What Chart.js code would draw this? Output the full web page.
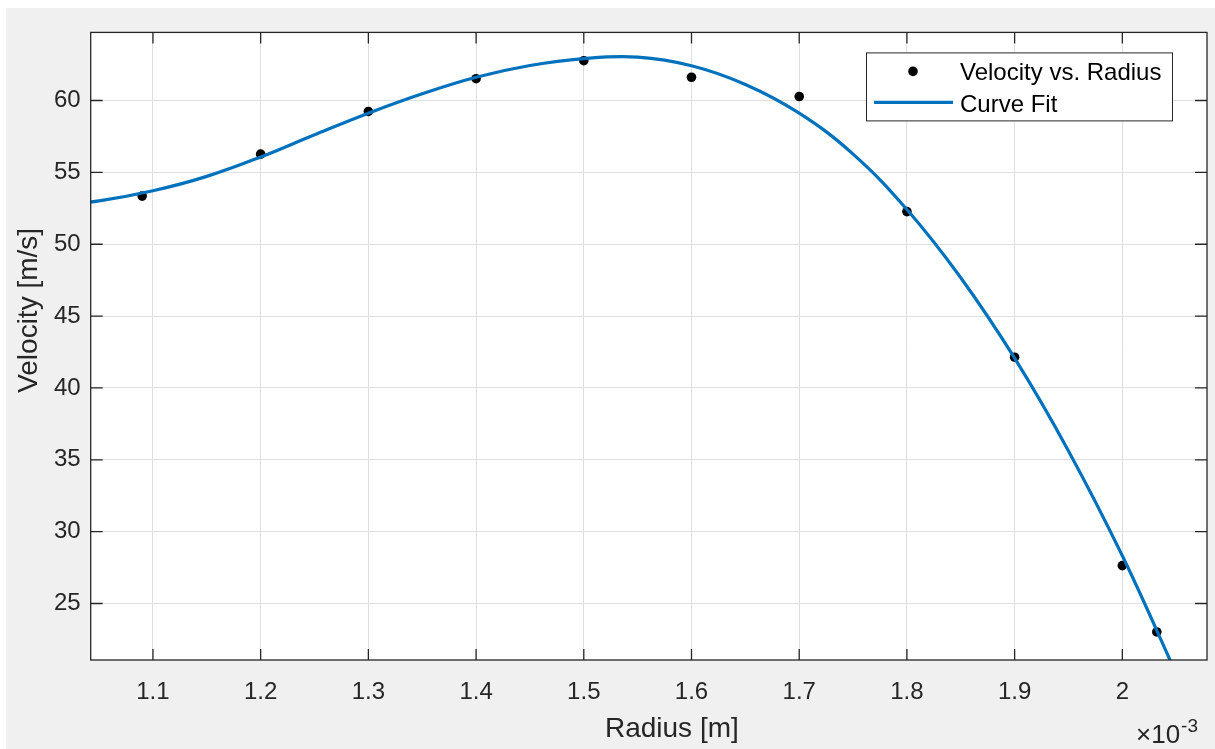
<!DOCTYPE html>
<html lang="en">
  <head>
    <meta charset="UTF-8" />
    <title>Velocity vs. Radius</title>
    <script src="https://cdn.jsdelivr.net/npm/chart.js"></script>
    <style>
      html, body { margin: 0; background: #fff; }
      #panel { position: absolute; left: 6px; top: 8px; width: 1209px; height: 741px; background: #f0f0f0; }
      #chart { display: block; }
    </style>
  </head>
  <body>
    <div id="panel"><canvas id="chart" width="1209" height="741"></canvas></div>

    <script>
      // measured points (radius in units of 1e-3 m)
      const radius   = [1.09, 1.2, 1.3, 1.4, 1.5, 1.6, 1.7, 1.8, 1.9, 2.0, 2.032];
      const velocity = [53.35, 56.27, 59.24, 61.52, 62.77, 61.62, 60.28, 52.27, 42.14, 27.64, 23.02];

      // curve fit
      const fitRadius   = [1.0, 1.05, 1.1, 1.15, 1.2, 1.25, 1.3, 1.35, 1.4, 1.45, 1.5, 1.55,
                           1.6, 1.65, 1.7, 1.75, 1.8, 1.85, 1.9, 1.95, 2.0, 2.05];
      const fitVelocity = [52.6, 53.02, 53.72, 54.72, 56.07, 57.62, 59.12, 60.47, 61.62, 62.44, 62.92, 63.02,
                           62.42, 61.12, 59.12, 56.27, 52.42, 47.67, 42.07, 35.62, 28.32, 20.12];

      // axes
      const xTicks      = [1.1, 1.2, 1.3, 1.4, 1.5, 1.6, 1.7, 1.8, 1.9, 2.0];
      const xTickLabels = ["1.1", "1.2", "1.3", "1.4", "1.5", "1.6", "1.7", "1.8", "1.9", "2"];
      const yTicks      = [25, 30, 35, 40, 45, 50, 55, 60];
      const xRange = [1.0422, 2.0786];
      const yRange = [21.07, 64.74];

      const TXT = "#262626";
      const FONT = '"Liberation Sans", Arial, sans-serif';
      Chart.defaults.font.family = FONT;
      Chart.defaults.color = TXT;

      /* white plot area */
      const plotBg = {
        id: "plotBg",
        beforeDraw(chart) {
          const { ctx, chartArea: a } = chart;
          ctx.save();
          ctx.fillStyle = "#fff";
          ctx.fillRect(a.left, a.top, a.right - a.left, a.bottom - a.top);
          ctx.restore();
        }
      };

      /* box, inner ticks, labels, legend */
      const matlabFrame = {
        id: "matlabFrame",
        afterDraw(chart) {
          const { ctx, chartArea: a, scales: { x, y } } = chart;
          ctx.save();

          // box + inward ticks
          ctx.strokeStyle = TXT;
          ctx.lineWidth = 1.3;
          ctx.strokeRect(a.left, a.top, a.right - a.left, a.bottom - a.top);
          ctx.beginPath();
          xTicks.forEach(v => {
            const px = x.getPixelForValue(v);
            ctx.moveTo(px, a.bottom); ctx.lineTo(px, a.bottom - 11);
            ctx.moveTo(px, a.top);    ctx.lineTo(px, a.top + 11);
          });
          yTicks.forEach(v => {
            const py = y.getPixelForValue(v);
            ctx.moveTo(a.left, py);  ctx.lineTo(a.left + 12, py);
            ctx.moveTo(a.right, py); ctx.lineTo(a.right - 12, py);
          });
          ctx.stroke();

          // axis titles
          ctx.fillStyle = TXT;
          ctx.font = `28px ${FONT}`;
          ctx.textAlign = "center";
          ctx.textBaseline = "alphabetic";
          ctx.fillText("Radius [m]", (a.left + a.right) / 2 + 23, a.bottom + 77);
          ctx.save();
          ctx.translate(31, a.top + 278);
          ctx.rotate(-Math.PI / 2);
          ctx.fillText("Velocity [m/s]", 0, 0);
          ctx.restore();

          // exponent
          ctx.textAlign = "left";
          ctx.font = `26px ${FONT}`;
          const ex = a.right - 71, ey = a.bottom + 83;
          ctx.fillText("\u00d710", ex, ey);
          const w = ctx.measureText("\u00d710").width;
          ctx.font = `19px ${FONT}`;
          ctx.fillText("-3", ex + w + 1, ey - 11);

          // legend
          const ds = chart.data.datasets;
          const lx = a.right - 341, ly = a.top + 20, lw = 306, lh = 68;
          ctx.fillStyle = "#fff";
          ctx.fillRect(lx, ly, lw, lh);
          ctx.strokeStyle = TXT;
          ctx.lineWidth = 1;
          ctx.strokeRect(lx + 0.5, ly + 0.5, lw, lh);

          ctx.fillStyle = "#000";
          ctx.beginPath();
          ctx.arc(lx + 47, ly + 19, 4.8, 0, Math.PI * 2);
          ctx.fill();

          ctx.strokeStyle = ds[1].borderColor;
          ctx.lineWidth = ds[1].borderWidth;
          ctx.beginPath();
          ctx.moveTo(lx + 8, ly + 50);
          ctx.lineTo(lx + 87, ly + 50);
          ctx.stroke();

          ctx.fillStyle = "#000";
          ctx.font = `24px ${FONT}`;
          ctx.fillText(ds[0].label, lx + 94, ly + 28);
          ctx.fillText(ds[1].label, lx + 94, ly + 60);

          ctx.restore();
        }
      };

      new Chart(document.getElementById("chart"), {
        type: "scatter",
        data: {
          datasets: [
            {
              label: "Velocity vs. Radius",
              data: radius.map((r, i) => ({ x: r, y: velocity[i] })),
              backgroundColor: "#000",
              borderWidth: 0,
              pointRadius: 4.8,
              pointHoverRadius: 4.8,
              showLine: false,
              order: 1,
              clip: 0
            },
            {
              label: "Curve Fit",
              data: fitRadius.map((r, i) => ({ x: r, y: fitVelocity[i] })),
              borderColor: "#0072BD",
              borderWidth: 3.2,
              pointRadius: 0,
              showLine: true,
              tension: 0.4,
              order: 0,
              clip: 0
            }
          ]
        },
        options: {
          responsive: false,
          animation: false,
          events: [],
          layout: { padding: { left: 0, top: 22.7, right: 8, bottom: 0 } },
          plugins: { legend: { display: false }, tooltip: { enabled: false } },
          scales: {
            x: {
              type: "linear",
              min: xRange[0],
              max: xRange[1],
              afterBuildTicks: s => { s.ticks = xTicks.map(v => ({ value: v })); },
              afterFit: s => { s.height = 89; },
              grid: { color: "#dfdfdf", lineWidth: 1, drawTicks: false },
              border: { display: false },
              ticks: {
                padding: 18,
                maxRotation: 0,
                autoSkip: false,
                font: { size: 24 },
                color: TXT,
                callback: (v, i) => xTickLabels[i]
              }
            },
            y: {
              min: yRange[0],
              max: yRange[1],
              afterBuildTicks: s => { s.ticks = yTicks.map(v => ({ value: v })); },
              afterFit: s => { s.width = 84.7; },
              grid: { color: "#dfdfdf", lineWidth: 1, drawTicks: false },
              border: { display: false },
              ticks: {
                padding: 10,
                autoSkip: false,
                font: { size: 24 },
                color: TXT,
                callback: v => String(v)
              }
            }
          }
        },
        plugins: [plotBg, matlabFrame]
      });
    </script>
  </body>
</html>
